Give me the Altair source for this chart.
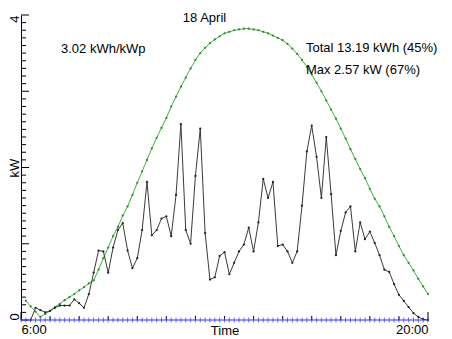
import altair as alt
import pandas as pd

# ---------------- data (minutes after 6:00, kW) ----------------
power_minutes = list(range(20, 841, 10))
power_kw = [
    0.00, 0.16, 0.13, 0.10, 0.12, 0.16, 0.19, 0.19, 0.19, 0.27,
    0.22, 0.16, 0.34, 0.62, 0.91, 0.90, 0.62, 0.95, 1.18, 1.27,
    0.91, 0.68, 0.81, 1.18, 1.81, 1.11, 1.18, 1.33, 1.36, 1.10,
    1.64, 2.57, 1.18, 1.00, 1.89, 2.51, 1.14, 0.53, 0.56, 0.84,
    0.89, 0.60, 0.75, 0.90, 0.99, 1.21, 0.90, 1.28, 1.85, 1.60,
    1.81, 0.97, 0.99, 0.90, 0.75, 0.90, 1.50, 2.21, 2.55, 2.14,
    1.60, 2.40, 1.65, 0.85, 1.17, 1.41, 1.49, 0.90, 1.28, 1.06,
    1.16, 1.01, 0.85, 0.66, 0.63, 0.47, 0.33, 0.25, 0.17, 0.09,
    0.04, 0.01, 0.00,
]

clear_minutes = list(range(10, 841, 10))
clear_kw = [
    0.25, 0.18, 0.11, 0.04, 0.08, 0.12, 0.17, 0.21, 0.26, 0.30,
    0.34, 0.39, 0.43, 0.48, 0.52, 0.66, 0.81, 0.95, 1.10, 1.22,
    1.37, 1.49, 1.64, 1.80, 1.95, 2.10, 2.25, 2.39, 2.52, 2.65,
    2.80, 2.93, 3.06, 3.18, 3.30, 3.41, 3.50, 3.57, 3.63, 3.68,
    3.72, 3.76, 3.78, 3.80, 3.81, 3.82, 3.82, 3.81, 3.80, 3.78,
    3.76, 3.73, 3.70, 3.67, 3.62, 3.56, 3.49, 3.41, 3.32, 3.22,
    3.11, 3.00, 2.88, 2.76, 2.64, 2.51, 2.38, 2.24, 2.11, 1.98,
    1.86, 1.72, 1.59, 1.49, 1.36, 1.22, 1.10, 0.97, 0.85, 0.75,
    0.65, 0.54, 0.44, 0.34,
]

zero_minutes = list(range(0, 841, 10))
zero_kw = [
    0, 0, 0, 0, 0, 0, 0, 0, 0, 0, 0, 0, 0, 0, 0, 0, 0,
    0, 0, 0, 0, 0, 0, 0, 0, 0, 0, 0, 0, 0, 0, 0, 0, 0,
    0, 0, 0, 0, 0, 0, 0, 0, 0, 0, 0, 0, 0, 0, 0, 0, 0,
    0, 0, 0, 0, 0, 0, 0, 0, 0, 0, 0, 0, 0, 0, 0, 0, 0,
    0, 0, 0, 0, 0, 0, 0, 0, 0, 0, 0, 0, 0, 0, 0, 0, 0,
]

x_label_values = [0, 840]
x_label_texts = ["6:00", "20:00"]
x_minor_ticks = [60, 120, 180, 240, 300, 360, 420, 480, 540, 600, 660, 720, 780]
x_major_ticks = [0, 840]
y_label_values = [0, 4]
y_major_ticks = [0, 1, 2, 3, 4]
y_minor_ticks = [round(v / 10, 1) for v in range(1, 40) if v % 10 != 0]

annot_x = [82.6, 334, 588, 588]
annot_y = [3.50, 3.91, 3.51, 3.23]
annot_text = ["3.02 kWh/kWp", "18 April", "Total 13.19 kWh (45%)", "Max 2.57 kW (67%)"]

# ---------------- chart ----------------
W, H = 407, 305
FONT = "Liberation Sans"

xs = alt.Scale(domain=[0, 840], nice=False, zero=False)
ys = alt.Scale(domain=[0, 4], nice=False)

label_expr = " : ".join(
    f"datum.value == {v} ? '{t}'" for v, t in zip(x_label_values, x_label_texts)
) + " : ''"

x_axis = alt.Axis(
    values=x_label_values, labelExpr=label_expr, ticks=False, domain=False,
    grid=False, labelFlush=True, labelFontSize=13, labelFont=FONT,
    labelColor="black", labelPadding=3, labelBaseline="top", labelOverlap=False,
    title="Time", titleFontSize=13, titleFont=FONT, titleFontWeight="normal",
    titleColor="black", titleBaseline="alphabetic", titleY=14,
)
y_axis = alt.Axis(
    values=y_label_values, format="d", ticks=False, domain=True, domainColor="black",
    domainWidth=1, grid=False, labelAngle=-90, labelFontSize=13, labelFont=FONT,
    labelColor="black", labelPadding=3, labelBaseline="alphabetic",
    labelAlign={"condition": {"test": "datum.value == 0", "value": "left"}, "value": "right"},
    labelOverlap=False, labelFlush=False,
    title="kW", titleFontSize=13, titleFont=FONT, titleFontWeight="normal",
    titleColor="black", titleAngle=-90, titleBaseline="alphabetic", titleX=-3,
)

df_power = pd.DataFrame({"m": power_minutes, "kw": power_kw})
df_clear = pd.DataFrame({"m": clear_minutes, "kw": clear_kw})
df_zero = pd.DataFrame({"m": zero_minutes, "kw": zero_kw})

clear_line = alt.Chart(df_clear).mark_line(
    color="#3cb43c", strokeWidth=1,
    point=alt.OverlayMarkDef(color="#2a8a2a", size=5, filled=True),
).encode(
    x=alt.X("m:Q", scale=xs, axis=x_axis),
    y=alt.Y("kw:Q", scale=ys, axis=y_axis),
)

power_line = alt.Chart(df_power).mark_line(
    color="#3a3a3a", strokeWidth=1,
    point=alt.OverlayMarkDef(color="#222222", size=5, filled=True),
).encode(x=alt.X("m:Q", scale=xs), y=alt.Y("kw:Q", scale=ys))

zero_line = alt.Chart(df_zero).mark_line(color="#3030ff", strokeWidth=1).encode(
    x=alt.X("m:Q", scale=xs), y=alt.Y("kw:Q", scale=ys)
)
zero_marks = alt.Chart(df_zero).mark_tick(
    orient="vertical", color="#3030ff", size=5, thickness=1
).encode(x=alt.X("m:Q", scale=xs), y=alt.Y("kw:Q", scale=ys))

y_major = alt.Chart(pd.DataFrame({"v": y_major_ticks})).mark_rule(
    color="black", strokeWidth=1
).encode(y=alt.Y("v:Q", scale=ys), x=alt.value(0), x2=alt.value(8))
y_minor = alt.Chart(pd.DataFrame({"v": y_minor_ticks})).mark_rule(
    color="black", strokeWidth=1
).encode(y=alt.Y("v:Q", scale=ys), x=alt.value(0), x2=alt.value(5))
x_major = alt.Chart(pd.DataFrame({"v": x_major_ticks})).mark_rule(
    color="black", strokeWidth=1
).encode(x=alt.X("v:Q", scale=xs), y=alt.value(H), y2=alt.value(H - 8))
x_minor = alt.Chart(pd.DataFrame({"v": x_minor_ticks})).mark_rule(
    color="black", strokeWidth=1
).encode(x=alt.X("v:Q", scale=xs), y=alt.value(H), y2=alt.value(H - 4))

annots = alt.Chart(
    pd.DataFrame({"m": annot_x, "kw": annot_y, "t": annot_text})
).mark_text(
    align="left", baseline="alphabetic", font=FONT, fontSize=13, color="black"
).encode(x=alt.X("m:Q", scale=xs), y=alt.Y("kw:Q", scale=ys), text="t:N")

chart = alt.layer(
    y_minor, y_major, x_minor, x_major, clear_line, power_line,
    zero_line, zero_marks, annots,
).properties(
    width=W, height=H,
    padding={"left": 13, "top": 7, "right": 16, "bottom": 19},
    autosize=alt.AutoSizeParams(type="none"),
    background="white",
).configure_view(stroke=None)

chart.save("out.html", embed_options={"renderer": "svg", "actions": False})
